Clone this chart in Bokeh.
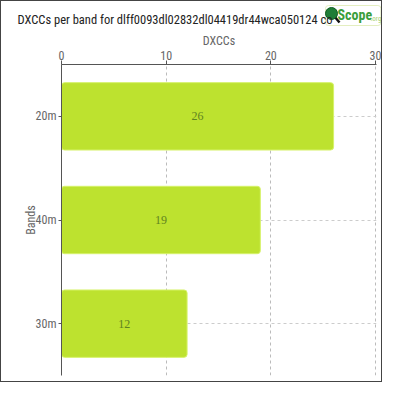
from bokeh.embed import file_html
from bokeh.resources import INLINE
from bokeh.plotting import figure
from bokeh.models import ColumnDataSource, LabelSet, Label, FactorRange

# data
bands = ["20m", "40m", "30m"]
dxccs = [26, 19, 12]
title_text = "DXCCs per band for dlff0093dl02832dl04419dr44wca050124 co"

FONT = "Roboto Condensed"
W = 382
HEAD_H = 30
EDGE = "1px solid #444444"

# header strip: title and logo
head = figure(width=W, height=HEAD_H, x_range=(0, W), y_range=(0, HEAD_H),
              x_axis_location=None, y_axis_location=None,
              toolbar_location=None, tools="", output_backend="svg",
              min_border=0)
head.grid.visible = False
head.outline_line_color = None
head.styles = {"border-top": EDGE, "border-left": EDGE, "border-right": EDGE}

head.add_layout(Label(x=16, y=12, text=title_text, text_font=FONT,
                      text_font_size="12.5px", text_color="#222222",
                      text_baseline="middle"))
# logo box sits under the logo glyphs
head.add_layout(Label(x=324, y=6, text="                ", text_font=FONT,
                      text_font_size="14px", text_color="white",
                      background_fill_color="white",
                      border_line_color="#e4eec0", border_radius=3,
                      padding=2, level="underlay"))
head.segment(x0=[333], y0=[15], x1=[338], y1=[9], line_color="#111111",
             line_width=2.5)
head.scatter(x=[330], y=[18], size=12, fill_color="#1f7d36",
             line_color="#0f5a22", line_width=1)
head.add_layout(Label(x=336, y=9, text="Scope", text_font=FONT,
                      text_font_size="14px", text_font_style="bold",
                      text_color="#3a9e3c"))
head.add_layout(Label(x=369, y=9, text=".org", text_font=FONT,
                      text_font_size="7px", text_color="#a5cf6c"))

# main chart
src = ColumnDataSource(data=dict(
    band=bands,
    dxcc=dxccs,
    mid=[v / 2 for v in dxccs],
    txt=[str(v) for v in dxccs],
))

p = figure(width=W, height=W - HEAD_H,
           y_range=FactorRange(*reversed(bands)),
           x_range=(0, 30.1),
           x_axis_location="above",
           x_axis_label="DXCCs",
           y_axis_label="Bands",
           toolbar_location=None,
           tools="",
           output_backend="svg",
           min_border_left=60, min_border_right=7,
           min_border_top=0, min_border_bottom=7)
p.outline_line_color = None
p.styles = {"border-bottom": EDGE, "border-left": EDGE, "border-right": EDGE}

p.hbar(y="band", right="dxcc", left=0, height=0.65, source=src,
       fill_color="#bde22f", line_color="#d6f26a", line_width=1,
       border_radius=3)

labels = LabelSet(x="mid", y="band", text="txt", source=src,
                  text_align="center", text_baseline="middle",
                  text_color="#5f8420", text_font=FONT, text_font_size="12px")
p.add_layout(labels)

# grids
p.xgrid.ticker = [10, 20, 30]
p.xgrid.grid_line_color = "#bbbbbb"
p.xgrid.grid_line_dash = "3 3"
p.ygrid.grid_line_color = "#cccccc"
p.ygrid.grid_line_dash = "3 3"

# axes
for ax in (p.xaxis[0], p.yaxis[0]):
    ax.axis_line_color = "#555555"
    ax.major_tick_line_color = "#555555"
    ax.minor_tick_line_color = None
    ax.major_tick_in = 0
    ax.major_label_text_color = "#666666"
    ax.major_label_text_font = FONT
    ax.major_label_text_font_size = "12px"
    ax.axis_label_text_color = "#666666"
    ax.axis_label_text_font = FONT
    ax.axis_label_text_font_size = "12px"
    ax.axis_label_text_font_style = "normal"

p.xaxis.ticker = [0, 10, 20, 30]
p.xaxis.major_tick_out = 4
p.xaxis.major_label_standoff = 1
p.xaxis.axis_label_standoff = 0
p.yaxis.major_tick_out = 3
p.yaxis.major_label_standoff = 2
p.yaxis.axis_label_standoff = -5

open("out.html", "w").write(file_html([head, p], INLINE))
